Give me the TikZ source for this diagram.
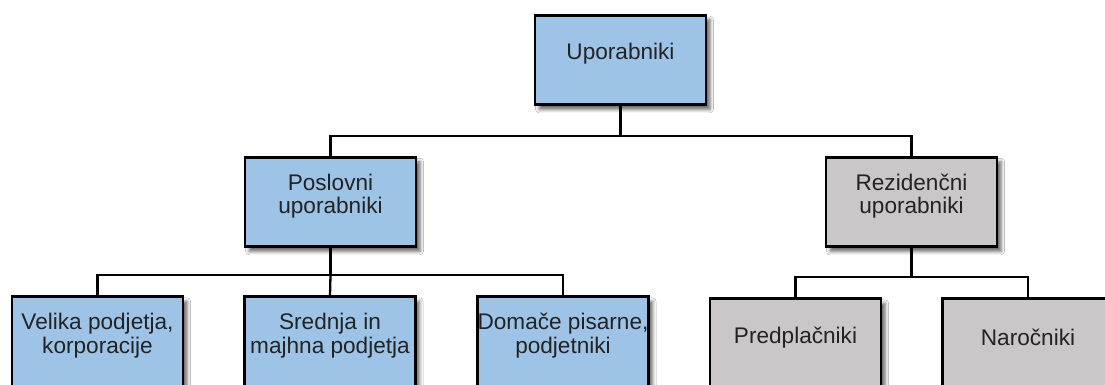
\documentclass[tikz,border=0pt]{standalone}
\usepackage{fontspec}
\setmainfont{Liberation Sans}
\usetikzlibrary{shadows.blur}
\definecolor{boxblue}{RGB}{157,195,230}
\definecolor{boxgray}{RGB}{201,199,199}
\definecolor{txtdark}{RGB}{35,35,35}
\tikzset{
  box/.style={draw=black, line width=2.6pt, minimum width=171pt, minimum height=89.5pt,
    inner sep=0pt,
    blur shadow={shadow xshift=4pt, shadow yshift=-4.5pt, shadow blur radius=3.5pt, shadow opacity=60}},
  bluebox/.style={box, fill=boxblue},
  graybox/.style={box, fill=boxgray},
  txt/.style={font=\fontsize{22.6}{23.5}\selectfont, text=txtdark, align=center, yshift=6pt, inner sep=0pt},
  conn/.style={draw=black, line width=2.3pt}
}
\begin{document}
\begin{tikzpicture}[x=1pt, y=-1pt]
  \useasboundingbox (0,0) rectangle (1105,385);
  \clip (0,0) rectangle (1105,385);
  \fill[white] (0,0) rectangle (1105,385);

  % bus levels
  \coordinate (busA) at (0,136);
  \coordinate (busB) at (0,275);
  \coordinate (busC) at (0,277);

  % top level
  \node[bluebox, label={[txt]center:Uporabniki}] (root) at (620.5,60) {};

  % second level
  \node[bluebox, label={[txt]center:Poslovni\\uporabniki}] (biz) at (330.5,202) {};
  \node[graybox, label={[txt]center:Rezidenčni\\uporabniki}] (res) at (911.5,202) {};

  % third level
  \node[bluebox, label={[txt]center:Velika podjetja,\\korporacije}] (big) at (97.5,341.5) {};
  \node[bluebox, label={[txt]center:Srednja in\\majhna podjetja}] (mid) at (330,341.5) {};
  \node[bluebox, label={[txt]center:Domače pisarne,\\podjetniki}] (home) at (563,341.5) {};
  \node[graybox, label={[txt]center:Predplačniki}] (sub) at (795.5,343.5) {};
  \node[graybox, label={[txt]center:Naročniki}] (cust) at (1028,343.5) {};

  % connectors
  \draw[conn] (root.south) -- (root.south |- busA) -| (biz.north);
  \draw[conn] (root.south |- busA) -| (res.north);

  \draw[conn] (biz.south) -- (biz.south |- busB) -| (big.north);
  \draw[conn] (biz.south |- busB) -| (home.north);
  \draw[conn] (biz.south |- busB) -- (mid.north);

  \draw[conn] (res.south) -- (res.south |- busC) -| (sub.north);
  \draw[conn] (res.south |- busC) -| (cust.north);
\end{tikzpicture}
\end{document}
